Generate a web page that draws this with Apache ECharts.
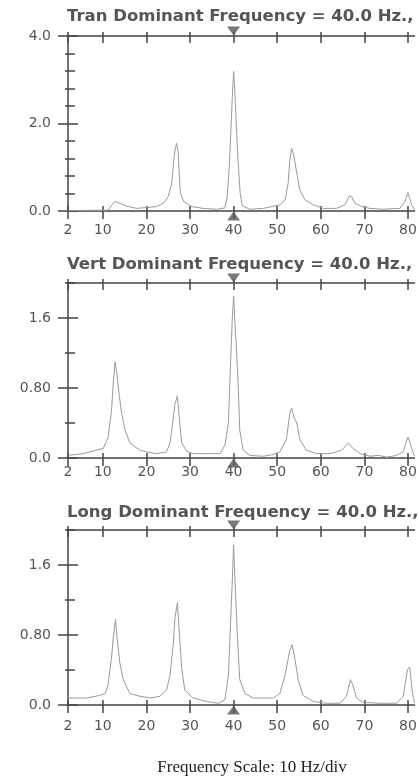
<!DOCTYPE html>
<html><head><meta charset="utf-8">
<script src="https://cdn.jsdelivr.net/npm/echarts@6/dist/echarts.min.js"></script>
<style>html,body{margin:0;padding:0;background:#fff}#c{width:418px;height:781px}</style>
</head><body><div id="c"></div>
<script>
// ---- data ----
const freqTicks = [2, 10, 20, 30, 40, 50, 60, 70, 80];
const dominantFreq = 40.0;

const tranTitle = 'Tran Dominant Frequency = 40.0 Hz.,';
const vertTitle = 'Vert Dominant Frequency = 40.0 Hz.,';
const longTitle = 'Long Dominant Frequency = 40.0 Hz.,';
const captionText = 'Frequency Scale: 10 Hz/div';

const tranYTicks = [0, 0.4, 0.8, 1.2, 1.6, 2.0, 2.4, 2.8, 3.2, 3.6, 4.0];
const tranYLabels = [0, 2.0, 4.0];
const tranYTexts = ['0.0', '2.0', '4.0'];
const vlYTicks = [0, 0.4, 0.8, 1.2, 1.6, 2.0];
const vlYLabels = [0, 0.8, 1.6];
const vlYTexts = ['0.0', '0.80', '1.6'];

const tranFreq = [2, 11.2, 11.6, 12.8, 14, 15.5, 17.8, 20, 22.3, 23.9,
  25, 25.8, 26.2, 26.5, 26.9, 27.3, 27.5, 27.8, 28.6, 30.4,
  33, 36.1, 38, 38.5, 39, 39.4, 39.7, 40, 40.3, 40.6,
  41, 41.5, 42, 43.7, 46.8, 49.1, 50.6, 51.8, 52.5, 52.9,
  53.3, 53.8, 54.5, 55.2, 56.4, 58.3, 60.6, 63.6, 65.5, 66.5,
  67.1, 67.8, 69.4, 71.3, 74.3, 78.1, 79.3, 80, 80.8, 81.5];
const tranAmp = [0.01, 0.02, 0.08, 0.22, 0.17, 0.11, 0.06, 0.08, 0.1, 0.18,
  0.33, 0.63, 1.09, 1.36, 1.55, 1.32, 0.87, 0.4, 0.21, 0.1,
  0.06, 0.04, 0.07, 0.3, 1.0, 1.9, 2.6, 3.19, 2.7, 2.0,
  1.2, 0.4, 0.12, 0.04, 0.06, 0.11, 0.14, 0.25, 0.63, 1.17,
  1.43, 1.28, 0.86, 0.48, 0.25, 0.14, 0.06, 0.06, 0.14, 0.34,
  0.33, 0.18, 0.1, 0.06, 0.04, 0.06, 0.21, 0.42, 0.15, 0.03];

const vertFreq = [2, 5.5, 7.8, 10.1, 11.2, 12, 12.4, 12.8, 13.2, 13.8,
  14.3, 15.1, 16.2, 18.5, 20, 22.3, 24.6, 25.4, 26.2, 26.5,
  27.1, 27.5, 28.1, 29.2, 30.7, 33.8, 36.9, 38, 38.8, 39.3,
  39.7, 40, 40.3, 40.7, 41.1, 41.4, 42.2, 43.7, 46.8, 49.1,
  50.6, 52.1, 52.9, 53.3, 53.8, 54.5, 55.2, 56.7, 59, 62.1,
  64.8, 66.3, 67.4, 69, 71.3, 73.2, 75.1, 77.4, 78.9, 80,
  80.8, 81.5];
const vertAmp = [0.03, 0.05, 0.08, 0.11, 0.24, 0.55, 0.87, 1.1, 0.97, 0.7,
  0.51, 0.32, 0.17, 0.09, 0.07, 0.05, 0.07, 0.17, 0.47, 0.61,
  0.71, 0.47, 0.17, 0.08, 0.05, 0.05, 0.05, 0.15, 0.4, 1.08,
  1.6, 1.85, 1.55, 1.2, 0.78, 0.32, 0.09, 0.03, 0.02, 0.04,
  0.07, 0.21, 0.51, 0.57, 0.47, 0.4, 0.21, 0.09, 0.05, 0.05,
  0.09, 0.17, 0.11, 0.05, 0.02, 0.03, 0.01, 0.03, 0.07, 0.24,
  0.12, 0.02];

const longFreq = [2, 6.3, 9.3, 10.5, 11.2, 12, 12.4, 12.9, 13.3, 13.9,
  14.7, 16.2, 18.5, 20.8, 23.1, 24.6, 25.4, 26.2, 26.5, 27.1,
  27.5, 28.1, 28.8, 30.7, 33.8, 36.5, 38, 38.8, 39.3, 39.7,
  40, 40.3, 40.8, 41.4, 42.6, 44.5, 46.8, 49.1, 50.6, 51.8,
  52.9, 53.4, 54.1, 54.8, 55.9, 58.3, 61.3, 64.4, 65.9, 66.8,
  67.4, 68.2, 69.7, 73.6, 77.4, 78.9, 79.9, 80.4, 81, 81.5];
const longAmp = [0.08, 0.08, 0.11, 0.13, 0.23, 0.55, 0.78, 0.98, 0.75, 0.48,
  0.29, 0.13, 0.1, 0.08, 0.1, 0.17, 0.34, 0.72, 0.98, 1.17,
  0.86, 0.41, 0.17, 0.08, 0.04, 0.02, 0.06, 0.34, 0.94, 1.43,
  1.83, 1.43, 0.86, 0.29, 0.13, 0.08, 0.08, 0.08, 0.13, 0.34,
  0.63, 0.69, 0.52, 0.29, 0.11, 0.04, 0.02, 0.02, 0.1, 0.29,
  0.22, 0.08, 0.03, 0.02, 0.02, 0.1, 0.41, 0.43, 0.15, 0.02];

// ---- layout ----
const panels = [
  {title: tranTitle, freq: tranFreq, amp: tranAmp, top: 36, yMax: 4.0, ticks: tranYTicks, labels: tranYLabels, texts: tranYTexts, xMargin: 12, titleY: 17},
  {title: vertTitle, freq: vertFreq, amp: vertAmp, top: 283, yMax: 2.0, ticks: vlYTicks, labels: vlYLabels, texts: vlYTexts, xMargin: 7, titleY: 265},
  {title: longTitle, freq: longFreq, amp: longAmp, top: 530, yMax: 2.0, ticks: vlYTicks, labels: vlYLabels, texts: vlYTexts, xMargin: 14, titleY: 513}
];

const AX = '#444';
const grid = [], xAxis = [], yAxis = [], series = [], graphic = [];
const noLine = {show: false, onZero: false};
const axLine = {show: true, onZero: false, lineStyle: {color: AX, width: 1.5}};
const tickStyle = {color: AX, width: 1.5};
const lblFont = {color: '#555', fontFamily: 'DejaVu Sans', fontSize: 14};

panels.forEach((p, i) => {
  grid.push({left: 68, top: p.top, width: 346.5, height: 175, outerBoundsMode: 'none', containLabel: false});
  const xb = {type: 'value', gridIndex: i, min: 2, max: 81.5, splitLine: {show: false}, silent: true};
  const xi = xAxis.length;
  xAxis.push(Object.assign({}, xb, {position: 'bottom', axisLine: axLine,
    axisTick: {customValues: freqTicks, length: 8, lineStyle: tickStyle},
    axisLabel: Object.assign({customValues: freqTicks, margin: p.xMargin}, lblFont)}));
  xAxis.push(Object.assign({}, xb, {position: 'bottom', axisLine: noLine,
    axisTick: {customValues: freqTicks, length: 5, inside: true, lineStyle: tickStyle}, axisLabel: {show: false}}));
  xAxis.push(Object.assign({}, xb, {position: 'top', axisLine: axLine,
    axisTick: {customValues: freqTicks, length: 4, lineStyle: tickStyle}, axisLabel: {show: false}}));
  xAxis.push(Object.assign({}, xb, {position: 'top', axisLine: noLine,
    axisTick: {customValues: freqTicks, length: 7, inside: true, lineStyle: tickStyle}, axisLabel: {show: false}}));

  const yb = {type: 'value', gridIndex: i, min: 0, max: p.yMax, splitLine: {show: false}, position: 'left', silent: true};
  const yi = yAxis.length;
  const fmt = v => {
    let best = 0;
    p.labels.forEach((l, k) => { if (Math.abs(l - v) < Math.abs(p.labels[best] - v)) best = k; });
    return p.texts[best];
  };
  yAxis.push(Object.assign({}, yb, {axisLine: axLine,
    axisTick: {customValues: p.ticks, length: 3, lineStyle: tickStyle},
    axisLabel: Object.assign({customValues: p.labels, margin: 17, formatter: fmt}, lblFont)}));
  yAxis.push(Object.assign({}, yb, {axisLine: noLine,
    axisTick: {customValues: p.ticks, length: 7, inside: true, lineStyle: tickStyle}, axisLabel: {show: false}}));
  yAxis.push(Object.assign({}, yb, {axisLine: noLine,
    axisTick: {customValues: p.labels, length: 10, lineStyle: tickStyle}, axisLabel: {show: false}}));
  yAxis.push(Object.assign({}, yb, {axisLine: noLine,
    axisTick: {customValues: p.labels, length: 10, inside: true, lineStyle: tickStyle}, axisLabel: {show: false}}));

  series.push({type: 'line', xAxisIndex: xi, yAxisIndex: yi, showSymbol: false, silent: true,
    data: p.freq.map((f, k) => [f, p.amp[k]]),
    lineStyle: {color: '#9a9a9a', width: 1}, z: 2});
  series.push({type: 'scatter', xAxisIndex: xi, yAxisIndex: yi, clip: false, silent: true,
    data: [[dominantFreq, p.yMax]], symbol: 'triangle', symbolRotate: 180, symbolSize: [13, 9],
    symbolOffset: [0, -5], itemStyle: {color: '#555'}, z: 3});
  series.push({type: 'scatter', xAxisIndex: xi, yAxisIndex: yi, clip: false, silent: true,
    data: [[dominantFreq, 0]], symbol: 'triangle', symbolSize: [13, 9],
    symbolOffset: [0, 5], itemStyle: {color: '#555'}, z: 3});

  graphic.push({type: 'text', x: 67, y: p.titleY, silent: true,
    style: {text: p.title, align: 'left', verticalAlign: 'middle', font: 'bold 16.5px "DejaVu Sans"', fill: '#555'}});
});
graphic.push({type: 'text', x: 252, y: 768, silent: true,
  style: {text: captionText, align: 'center', verticalAlign: 'middle', font: '17px "Liberation Serif"', fill: '#222'}});

const chart = echarts.init(document.getElementById('c'), null, {renderer: 'canvas'});
chart.setOption({animation: false, backgroundColor: '#fff', grid, xAxis, yAxis, series, graphic});
</script></body></html>
